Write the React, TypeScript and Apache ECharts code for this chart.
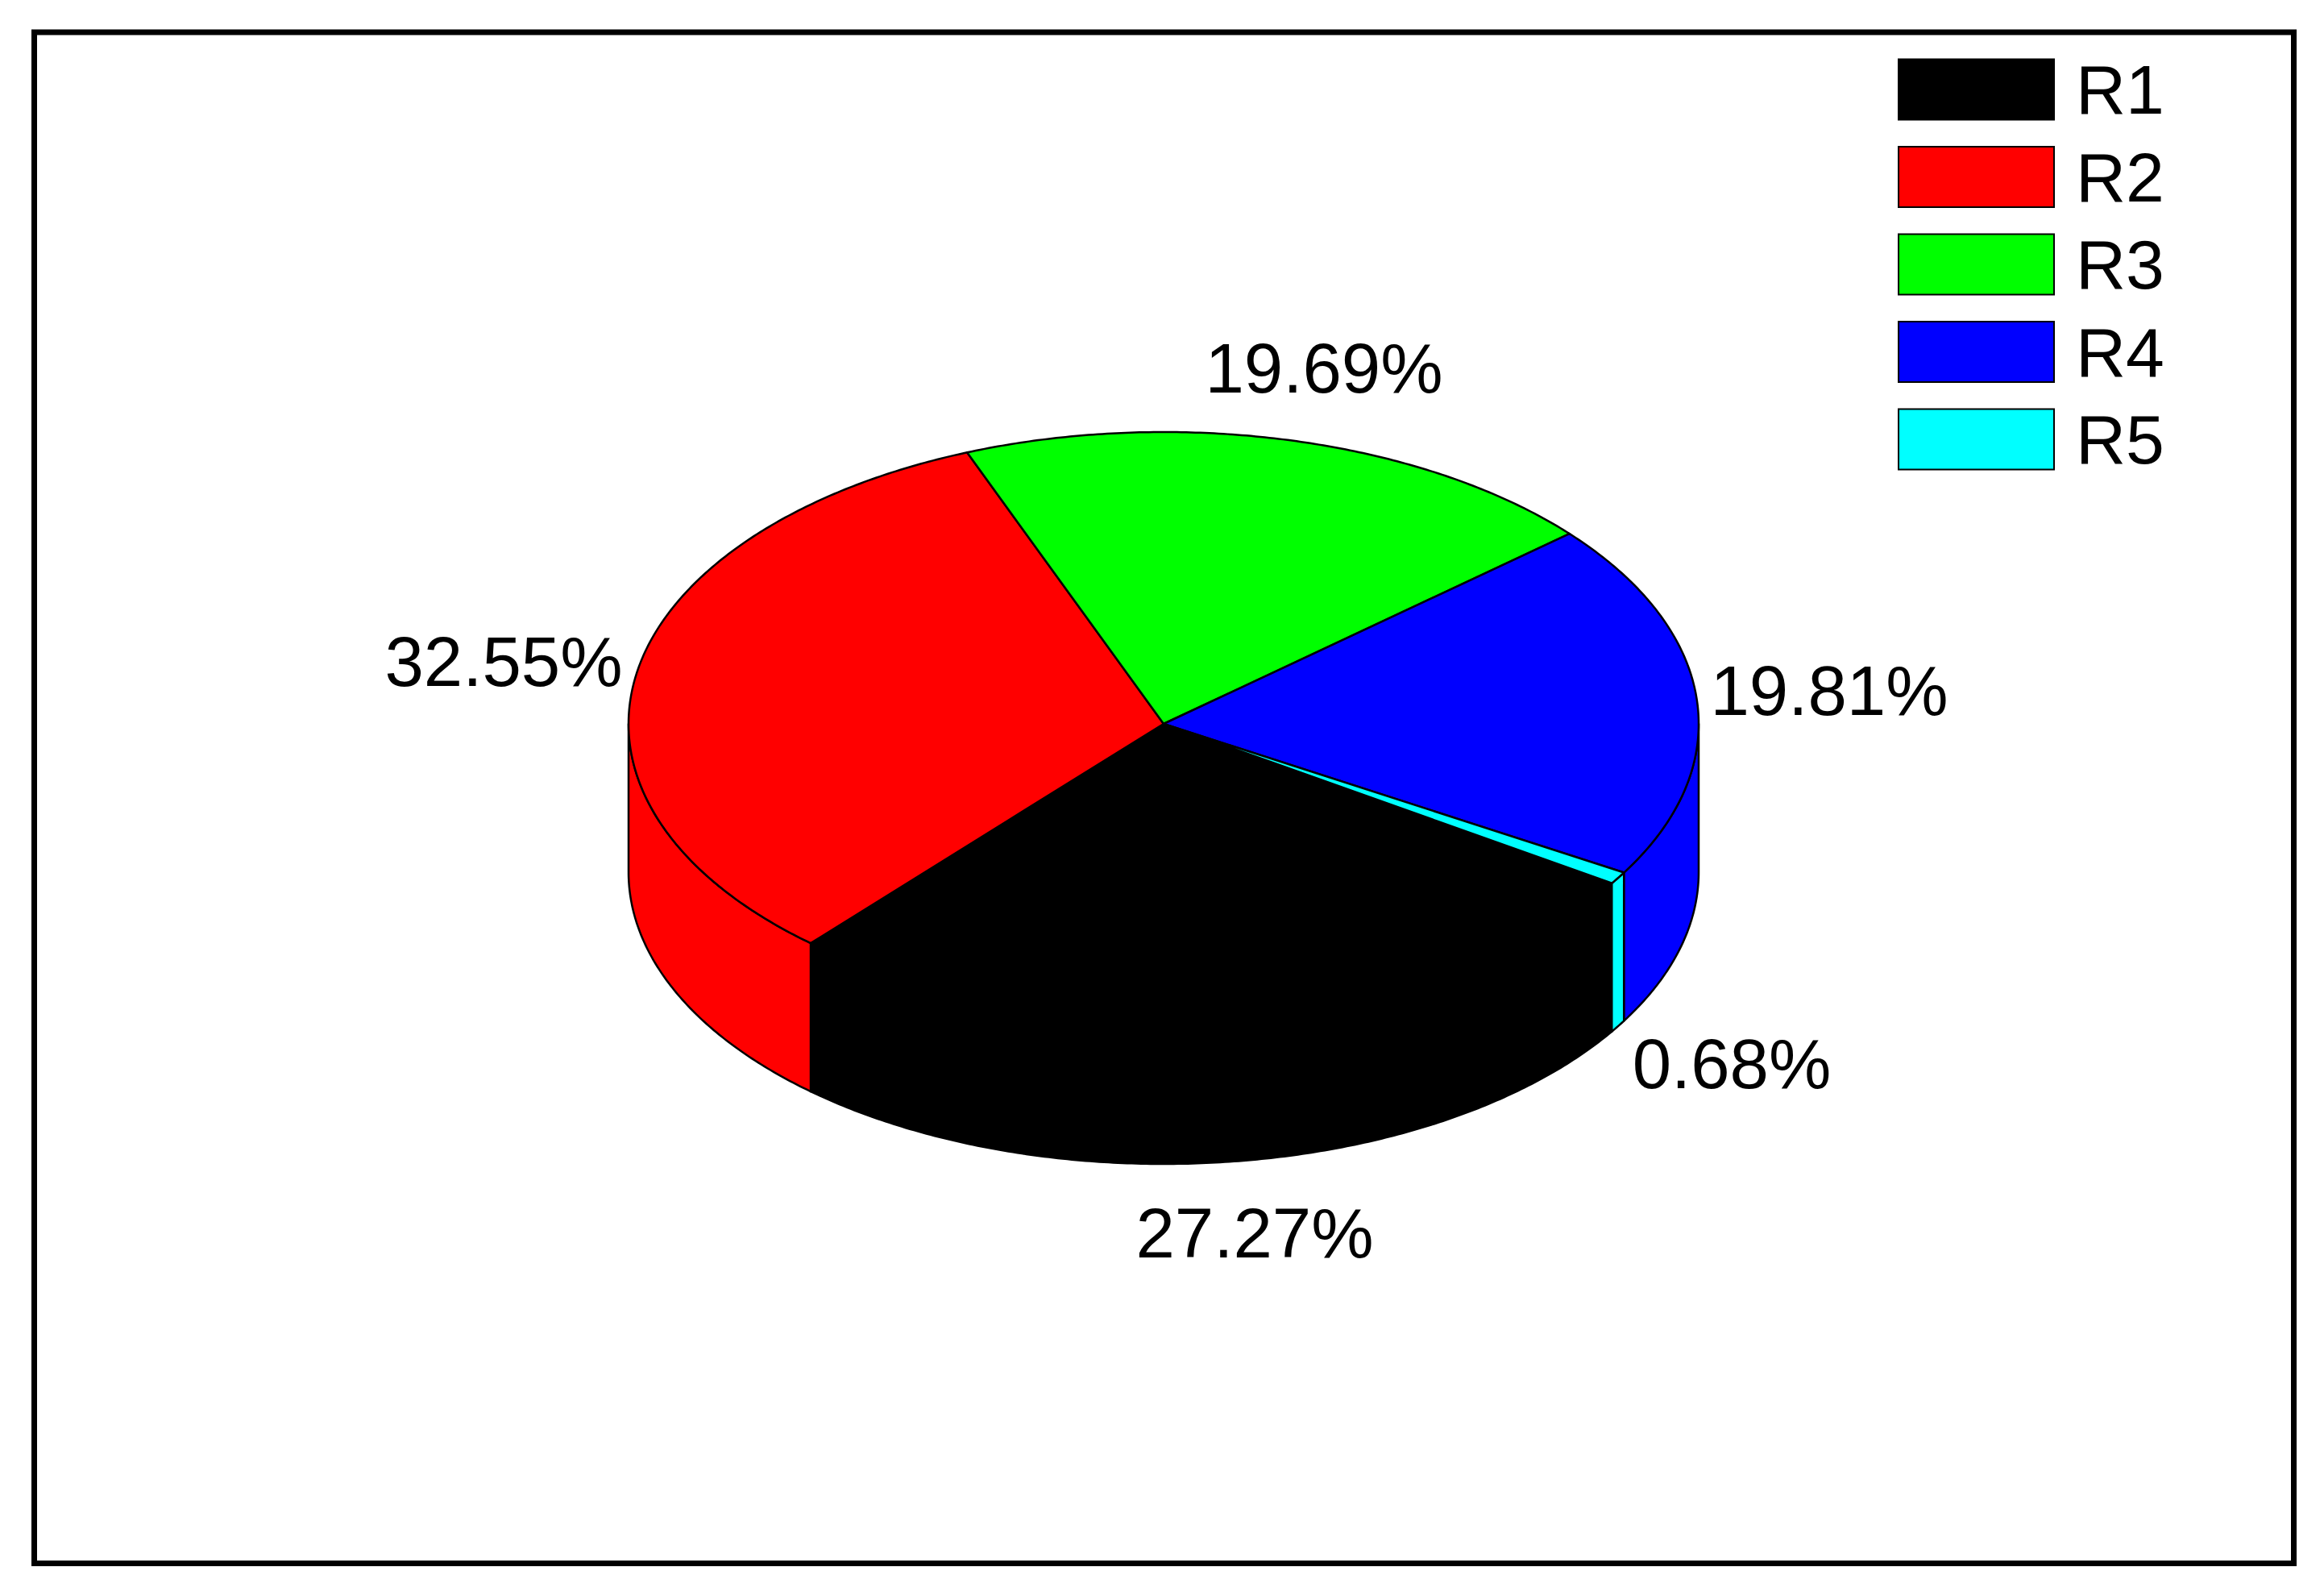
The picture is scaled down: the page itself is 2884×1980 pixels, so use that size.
import React, { useEffect, useRef } from "react";
import * as echarts from "echarts";

const categories = ["R1", "R2", "R3", "R4", "R5"];
const shares = [27.27, 32.55, 19.69, 19.81, 0.68];
const colors = ["#000000", "#ff0000", "#00ff00", "#0000ff", "#00ffff"];

// layout of the drawing, in page pixels
const W = 2884;
const H = 1980;
const CX = 1444;
const CY = 898;
const RX = 664;
const RY = 362;
const DEPTH = 184;
const START_DEG = 33.1;
const LINE = 2.5;
const FONT = "Liberation Sans, Arial, sans-serif";
const labelCentres = [
  [1557, 1529],
  [625, 820],
  [1643, 456],
  [2270, 856],
  [2149, 1319],
];

const total = shares.reduce((a, b) => a + b, 0);
const rim = (deg: number, dy = 0) => {
  const t = (deg * Math.PI) / 180;
  return [CX + RX * Math.cos(t), CY + RY * Math.sin(t) + dy];
};
const arcPoints = (a: number, b: number, dy = 0) => {
  const n = Math.max(2, Math.ceil((b - a) / 0.5));
  const pts: number[][] = [];
  for (let i = 0; i <= n; i++) pts.push(rim(a + ((b - a) * i) / n, dy));
  return pts;
};

const makeRenderItem = (index: number) => (_params: any, api: any) => {
  const value = api.value(0);
  const before = shares.slice(0, index).reduce((a, b) => a + b, 0);
  const a = START_DEG + (before / total) * 360;
  const b = a + (value / total) * 360;
  const style = { fill: colors[index], stroke: "#000", lineWidth: LINE, lineJoin: "round" };
  const children: any[] = [];
  for (const [lo, hi] of [
    [0, 180],
    [360, 540],
  ]) {
    const s = Math.max(a, lo);
    const e = Math.min(b, hi);
    if (e > s) {
      const upper = arcPoints(s, e);
      const lower = arcPoints(s, e, DEPTH).reverse();
      children.push({ type: "polygon", shape: { points: [...upper, ...lower] }, style });
    }
  }
  children.push({
    type: "polygon",
    shape: { points: [[CX, CY], ...arcPoints(a, b)] },
    style,
  });
  children.push({
    type: "text",
    style: {
      text: `${value.toFixed(2)}%`,
      x: labelCentres[index][0],
      y: labelCentres[index][1],
      align: "center",
      verticalAlign: "middle",
      fontFamily: FONT,
      fontSize: 87,
      fill: "#000",
    },
  });
  return { type: "group", children };
};

export default function App() {
  const ref = useRef<HTMLDivElement>(null);
  useEffect(() => {
    document.body.style.margin = "0";
    const chart = echarts.init(ref.current!, undefined, { renderer: "svg" });
    chart.setOption({
      animation: false,
      backgroundColor: "#fff",
      graphic: [
        {
          type: "rect",
          shape: { x: 42.5, y: 40, width: 2804, height: 1899.5 },
          style: { fill: "none", stroke: "#000", lineWidth: 7 },
          z: 0,
        },
      ],
      legend: {
        orient: "vertical",
        left: 2355,
        top: 68,
        padding: 0,
        itemWidth: 193,
        itemHeight: 75,
        itemGap: 22.5,
        icon: "rect",
        selectedMode: false,
        textStyle: { fontFamily: FONT, fontSize: 86, color: "#000", padding: [0, 0, 4, 22] },
        data: categories.map((name, i) => ({
          name,
          itemStyle: { color: colors[i], borderColor: "#000", borderWidth: 2 },
        })),
      },
      series: categories.map((name, i) => ({
        type: "custom",
        name,
        coordinateSystem: "none",
        silent: true,
        itemStyle: { color: colors[i] },
        renderItem: makeRenderItem(i),
        data: [[shares[i]]],
      })),
    });
    return () => chart.dispose();
  }, []);
  return <div ref={ref} style={{ width: W, height: H }} />;
}
